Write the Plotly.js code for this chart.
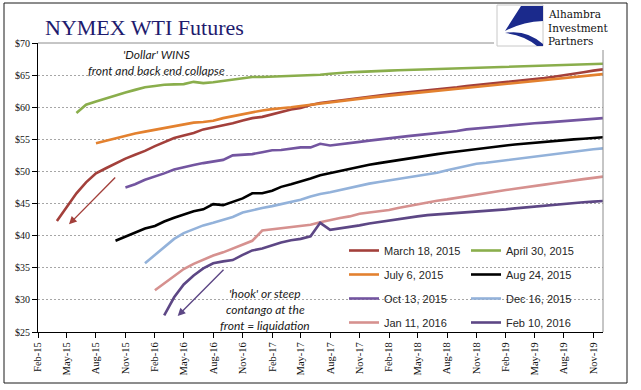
<!DOCTYPE html>
<html>
<head>
<meta charset="utf-8">
<script src="https://cdn.plot.ly/plotly-3.0.1.min.js"></script>
<style>html,body{margin:0;padding:0;background:#fff;}#chart{width:641px;height:390px;}</style>
</head>
<body>
<div id="chart"></div>
<script>
// ---- Data (monthly contract strip, USD/bbl) ----
const seriesNames = ["March 18, 2015","April 30, 2015","July 6, 2015","Aug 24, 2015",
                     "Oct 13, 2015","Dec 16, 2015","Jan 11, 2016","Feb 10, 2016"];
const seriesStart = ["2015-04","2015-06","2015-08","2015-10","2015-11","2016-01","2016-02","2016-03"];

const mar18_2015 = [42.3,44.5,46.6,48.3,49.7,50.5,51.3,52.0,52.6,53.2,53.95,54.6,55.2,55.6,56.0,56.55,56.85,57.1,57.5,57.95,
  58.3,58.5,58.9,59.3,59.65,59.9,60.35,60.65,60.85,61.05,61.25,61.5,61.7,61.85,62.0,62.15,62.3,62.45,62.6,62.75,
  62.9,63.1,63.3,63.45,63.6,63.75,63.9,64.05,64.2,64.4,64.55,64.75,64.95,65.2,65.45,65.7,65.9];
const apr30_2015 = [59.1,60.4,60.9,61.4,61.9,62.3,62.7,63.1,63.3,63.5,63.55,63.6,63.95,63.75,63.9,64.1,64.35,64.6,64.7,64.7,
  64.75,64.8,64.8,64.9,65.0,65.05,65.2,65.35,65.45,65.5,65.6,65.65,65.7,65.75,65.8,65.85,65.9,65.95,66.0,66.05,
  66.1,66.15,66.2,66.25,66.3,66.35,66.4,66.45,66.5,66.55,66.6,66.65,66.7,66.73,66.76];
const jul6_2015 = [54.4,54.8,55.1,55.5,55.9,56.2,56.5,56.8,57.1,57.3,57.6,57.7,57.9,58.3,58.6,58.9,59.2,59.5,59.7,59.8,
  60.0,60.2,60.4,60.6,60.75,60.95,61.15,61.35,61.5,61.65,61.8,61.95,62.1,62.25,62.4,62.55,62.7,62.85,63.0,63.15,
  63.3,63.45,63.6,63.75,63.9,64.05,64.2,64.35,64.5,64.65,64.8,65.0,65.15];
const aug24_2015 = [39.2,39.8,40.5,41.1,41.5,42.2,42.8,43.3,43.8,44.1,44.9,44.75,45.3,45.8,46.6,46.6,47.0,47.6,48.0,48.4,
  48.9,49.4,49.75,50.05,50.4,50.75,51.05,51.3,51.55,51.8,52.0,52.25,52.5,52.7,52.9,53.1,53.3,53.55,53.75,53.9,
  54.05,54.2,54.35,54.5,54.65,54.8,54.9,55.0,55.1,55.2,55.33];
const oct13_2015 = [47.5,48.0,48.7,49.2,49.7,50.3,50.7,51.0,51.3,51.6,51.8,52.5,52.55,52.7,53.0,53.3,53.35,53.6,53.75,53.75,
  54.3,54.05,54.2,54.4,54.6,54.8,55.0,55.15,55.35,55.5,55.65,55.8,55.95,56.1,56.3,56.55,56.7,56.85,56.95,57.05,
  57.2,57.35,57.5,57.6,57.7,57.85,57.95,58.05,58.2,58.3];
const dec16_2015 = [35.7,37.0,38.3,39.5,40.4,41.0,41.6,42.0,42.4,42.9,43.6,44.0,44.3,44.6,44.9,45.2,45.6,46.1,46.5,46.75,
  47.1,47.45,47.8,48.1,48.35,48.6,48.8,49.05,49.3,49.5,49.8,50.2,50.55,50.9,51.2,51.35,51.55,51.75,51.95,52.15,
  52.35,52.55,52.75,52.95,53.15,53.3,53.45,53.6];
const jan11_2016 = [31.5,32.6,33.8,34.8,35.6,36.3,36.9,37.4,38.0,38.5,39.2,40.8,41.0,41.15,41.3,41.5,41.7,42.1,42.45,42.75,
  43.0,43.4,43.6,43.8,44.0,44.3,44.6,44.9,45.2,45.45,45.65,45.9,46.1,46.4,46.7,46.9,47.1,47.3,47.55,47.75,
  47.95,48.15,48.4,48.6,48.8,49.0,49.2];
const feb10_2016 = [27.6,30.4,32.4,33.8,34.9,35.7,36.0,36.2,37.0,37.7,38.0,38.5,38.95,39.3,39.5,39.9,42.0,40.9,41.1,41.3,
  41.6,41.9,42.15,42.4,42.6,42.8,43.0,43.2,43.3,43.4,43.5,43.6,43.7,43.8,43.95,44.1,44.25,44.4,44.55,44.7,
  44.85,45.0,45.1,45.2,45.3,45.4];

const seriesValues = [mar18_2015, apr30_2015, jul6_2015, aug24_2015, oct13_2015, dec16_2015, jan11_2016, feb10_2016];
const seriesColors = ["#A3403B","#8AAE4C","#E3812F","#000000","#7355A0","#93B2DA","#D6918F","#5D4785"];
const legendOf = ["legend","legend2","legend","legend2","legend","legend2","legend","legend2"];

const yTicks = [25,30,35,40,45,50,55,60,65,70];
const yTickText = ["$25","$30","$35","$40","$45","$50","$55","$60","$65","$70"];

// contract months along the x axis
function monthList(startYM, n) {
  const out = [];
  let y = +startYM.slice(0,4), m = +startYM.slice(5,7);
  for (let i = 0; i < n; i++) {
    out.push(y + "-" + String(m).padStart(2,"0") + "-01");
    m++; if (m > 12) { m = 1; y++; }
  }
  return out;
}

const traces = seriesNames.map((name, i) => ({
  type: "scatter", mode: "lines", name: name,
  x: monthList(seriesStart[i], seriesValues[i].length),
  y: seriesValues[i],
  line: {color: seriesColors[i], width: 2.6},
  legend: legendOf[i], legendgroup: "g" + i,
  hoverinfo: "skip"
}));

// pixel -> paper helpers (plot area: x 38..603, y 43..332)
const L = 38, R = 603, T = 43, B = 332;
const px = v => (v - L) / (R - L);
const py = v => (B - v) / (B - T);

const serif = "Liberation Serif, Times New Roman, serif";
const sans = "Liberation Sans, Arial, sans-serif";
const noteFont = {family: "Lato, Open Sans, sans-serif", size: 12, color: "#1a1a1a"};

const note = (text, x, y) => ({xref:"paper", yref:"paper", x: px(x), y: py(y), text: "<i>" + text + "</i>",
  showarrow:false, xanchor:"center", yanchor:"middle", font: noteFont});
const logoText = (text, y) => ({xref:"paper", yref:"paper", x: px(546), y: py(y), text: text, showarrow:false,
  xanchor:"left", yanchor:"middle", height: 11, font:{family:"DejaVu Serif, serif", size:10.5, color:"#111"}});
const arrow = (x0, y0, x1, y1, color) => ({xref:"paper", yref:"paper", x: px(x1), y: py(y1), ax: x0 - x1, ay: y0 - y1,
  axref:"pixel", ayref:"pixel", text:"", showarrow:true, arrowhead:2, arrowsize:1.1, arrowwidth:1.4, arrowcolor:color});

const legendBase = {orientation:"v", xanchor:"left", yanchor:"top", bgcolor:"rgba(0,0,0,0)",
  font:{family: sans, size: 11, color:"#262626"}, tracegroupgap: 5, borderwidth: 0};

const layout = {
  width: 641, height: 390,
  margin: {l: L, r: 641 - R, t: T, b: 390 - B, pad: 0},
  paper_bgcolor: "#ffffff", plot_bgcolor: "#ffffff",
  title: {text: "NYMEX WTI Futures", font: {family: serif, size: 22, color: "#1E1B6E"},
          xref: "container", yref: "container", x: 45/641, xanchor: "left", y: 1 - 27/390, yanchor: "middle"},
  showlegend: true,
  legend: Object.assign({x: px(344), y: py(236)}, legendBase),
  legend2: Object.assign({x: px(466), y: py(236)}, legendBase),
  xaxis: {type: "date", range: ["2015-02-01", "2019-12-01"], tick0: "2015-02-01", dtick: "M3",
          tickformat: "%b-%y", tickangle: -90, ticks: "outside", ticklen: 5, tickcolor: "#000",
          showline: true, linecolor: "#000", linewidth: 1, showgrid: false, zeroline: false,
          automargin: false, fixedrange: true,
          tickfont: {family: serif, size: 10.5, color: "#111"}},
  yaxis: {range: [25, 70], tickmode: "array", tickvals: yTicks, ticktext: yTickText,
          ticks: "outside", ticklen: 5, tickcolor: "#000",
          showline: true, linecolor: "#000", linewidth: 1,
          showgrid: true, gridcolor: "#A6A6A6", gridwidth: 1, griddash: "2px,2px",
          zeroline: false, automargin: false, fixedrange: true,
          tickfont: {family: serif, size: 10, color: "#111"}},
  shapes: [
    {type:"line", xref:"paper", yref:"paper", x0:0, x1:1, y0:1, y1:1, line:{color:"#8C8C8C", width:1}},
    {type:"line", xref:"paper", yref:"paper", x0:1, x1:1, y0:0, y1:1, line:{color:"#8C8C8C", width:1}},
    {type:"rect", xref:"paper", yref:"paper", x0:px(4), x1:px(627), y0:py(383), y1:py(3), line:{color:"#1a1a1a", width:1}},
    {type:"rect", xref:"paper", yref:"paper", x0:px(494), x1:px(626), y0:py(50), y1:py(4), line:{width:0}, fillcolor:"#ffffff", layer:"above"},
    {type:"rect", xref:"paper", yref:"paper", x0:px(497), x1:px(543), y0:py(46), y1:py(5), line:{color:"#C8C8C8", width:1}, fillcolor:"#ffffff", layer:"above"},
    {type:"path", xref:"paper", yref:"paper", layer:"above", fillcolor:"#1B2A8C", line:{width:0},
     path: "M" + px(521) + "," + py(6) + " L" + px(543) + "," + py(6) + " L" + px(543) + "," + py(21) +
           " Q" + px(522) + "," + py(22) + " " + px(505) + "," + py(31) + " Z"},
    {type:"path", xref:"paper", yref:"paper", layer:"above", fillcolor:"#1B2A8C", line:{width:0},
     path: "M" + px(505) + "," + py(33) + " Q" + px(526) + "," + py(29) + " " + px(543) + "," + py(44) +
           " L" + px(543) + "," + py(46) + " L" + px(537) + "," + py(46) + " Q" + px(524) + "," + py(35) + " " + px(505) + "," + py(33) + " Z"}
  ],
  annotations: [
    note("'Dollar' WINS", 156, 55),
    note("front and back end collapse", 156, 70),
    note("'hook' or steep", 265, 293),
    note("contango at the", 265, 309),
    note("front = liquidation", 265, 325),
    arrow(116.7, 176, 69, 224.3, "#A3403B"),
    arrow(225, 268.3, 177.7, 316, "#5D4785"),
    logoText("Alhambra", 13.5),
    logoText("Investment", 27),
    logoText("Partners", 40.5)
  ]
};

Plotly.newPlot("chart", traces, layout, {displayModeBar: false, staticPlot: true});
</script>
</body>
</html>
